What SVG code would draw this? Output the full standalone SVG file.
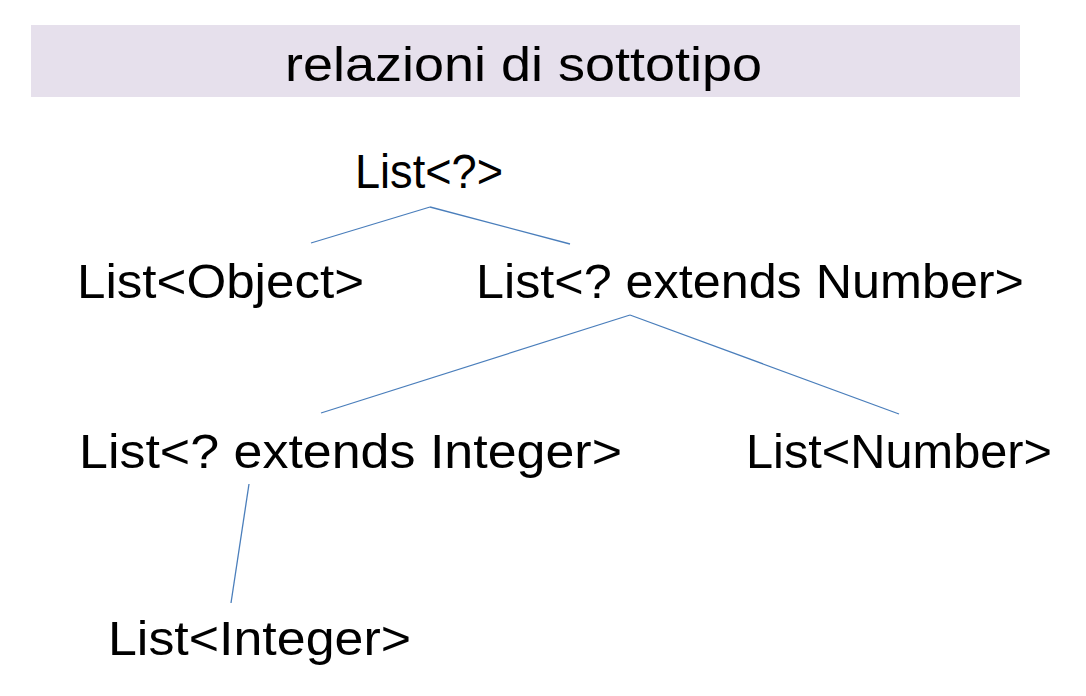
<svg xmlns="http://www.w3.org/2000/svg" width="1086" height="696" viewBox="0 0 1086 696">
<style>
.t{font-family:"Liberation Sans",Arial,sans-serif;font-size:48px;fill:#000;}
.c line{stroke:#4a7ebb;stroke-width:1.3;}
</style>
<rect x="0" y="0" width="1086" height="696" fill="#fff"/>
<g id="title">
<rect x="31" y="25" width="989" height="72" fill="#e6e0ec"/>
<text class="t" x="285" y="81" textLength="477" lengthAdjust="spacingAndGlyphs">relazioni di sottotipo</text>
</g>
<g class="c" id="connectors">
<line x1="430" y1="207" x2="311" y2="243"/>
<line x1="430" y1="207" x2="570" y2="244"/>
<line x1="630" y1="315" x2="321" y2="413"/>
<line x1="630" y1="315" x2="899" y2="414"/>
<line x1="249" y1="484" x2="231" y2="603"/>
</g>
<g id="n_any"><text class="t" x="355" y="188" textLength="148" lengthAdjust="spacingAndGlyphs">List&lt;?&gt;</text></g>
<g id="n_object"><text class="t" x="77" y="298" textLength="287" lengthAdjust="spacingAndGlyphs">List&lt;Object&gt;</text></g>
<g id="n_extnumber"><text class="t" x="476" y="298" textLength="548" lengthAdjust="spacingAndGlyphs">List&lt;? extends Number&gt;</text></g>
<g id="n_extinteger"><text class="t" x="79" y="468" textLength="543" lengthAdjust="spacingAndGlyphs">List&lt;? extends Integer&gt;</text></g>
<g id="n_number"><text class="t" x="746" y="468" textLength="306" lengthAdjust="spacingAndGlyphs">List&lt;Number&gt;</text></g>
<g id="n_integer"><text class="t" x="108" y="655" textLength="303" lengthAdjust="spacingAndGlyphs">List&lt;Integer&gt;</text></g>
</svg>
